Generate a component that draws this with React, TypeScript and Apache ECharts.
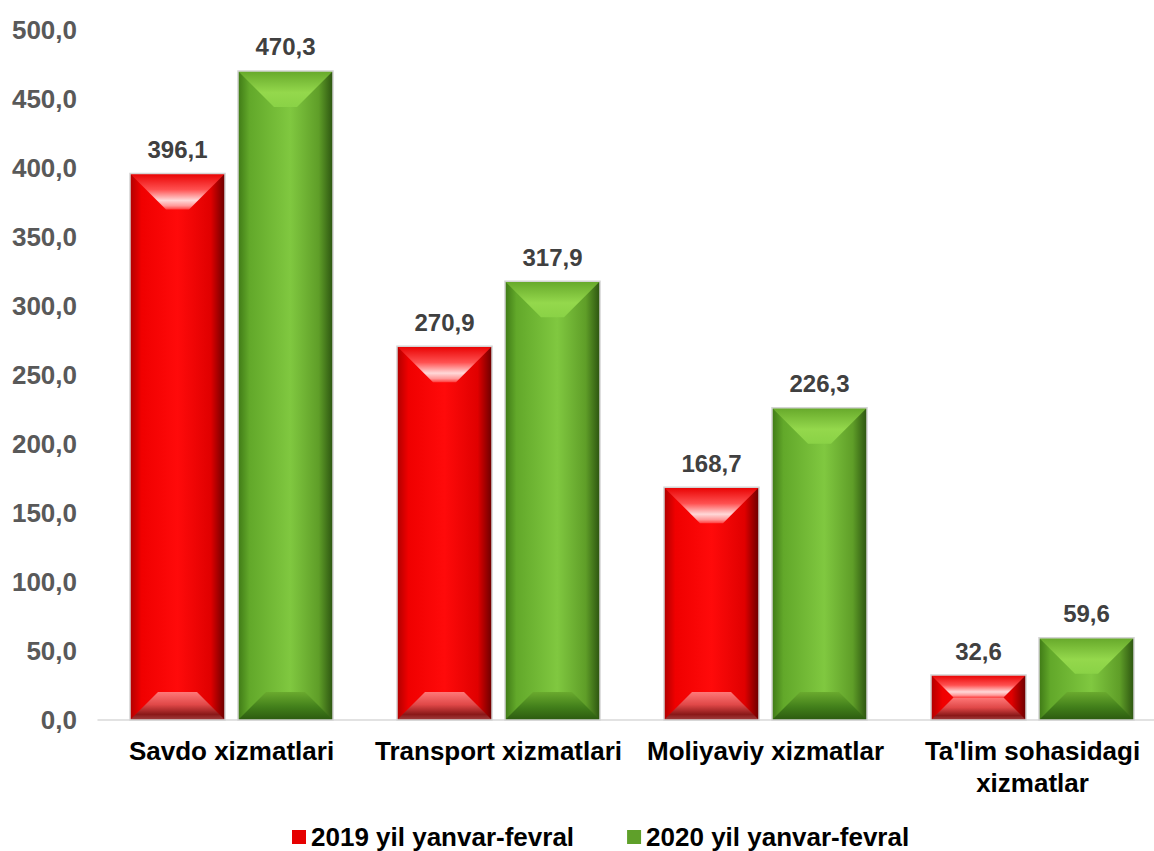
import React, { useEffect, useRef } from "react";
import * as echarts from "echarts";

const categories = ["Savdo xizmatlari", "Transport xizmatlari", "Moliyaviy xizmatlar", "Ta'lim sohasidagi\nxizmatlar"];
const series2019 = [396.1, 270.9, 168.7, 32.6];
const series2020 = [470.3, 317.9, 226.3, 59.6];
const seriesNames = ["2019 yil yanvar-fevral", "2020 yil yanvar-fevral"];

const FONT = "'Liberation Sans', Arial, sans-serif";

const fmt = (v: number) => v.toFixed(1).replace(".", ",");

type Palette = {
  front: [number, string][];
  top: [number, string][];
  bottom: [number, string][];
};

const redPal: Palette = {
  front: [[0, "#b00000"], [0.12, "#f00000"], [0.5, "#ff0a0a"], [0.85, "#e00000"], [1, "#6a0000"]],
  top: [[0, "#e80000"], [0.45, "#ff5050"], [0.75, "#ffd8d8"], [0.9, "#ff9a9a"], [1, "#ff4040"]],
  bottom: [[0, "#ff7878"], [0.45, "#e04848"], [0.8, "#8a1818"], [1, "#a04040"]],
};
const greenPal: Palette = {
  front: [[0, "#3f7a16"], [0.12, "#62a82a"], [0.55, "#80c840"], [0.85, "#5f9e28"], [1, "#2c5410"]],
  top: [[0, "#66a82a"], [0.6, "#94d84c"], [1, "#8ad246"]],
  bottom: [[0, "#6aaa2e"], [0.55, "#417e1a"], [1, "#2c5a10"]],
};

const grad = (stops: [number, string][], horizontal: boolean) => ({
  type: "linear",
  x: 0,
  y: 0,
  x2: horizontal ? 1 : 0,
  y2: horizontal ? 0 : 1,
  colorStops: stops.map(([offset, color]) => ({ offset, color })),
});

const BAR_W = 95;
const OFFSET = 54;

function makeRender(pal: Palette, sign: number) {
  return (params: any, api: any) => {
    const idx = api.value(0);
    const val = api.value(1);
    const base = api.coord([idx, 0]);
    const topPt = api.coord([idx, val]);
    const cx = base[0] + sign * OFFSET;
    const x0 = cx - BAR_W / 2;
    const x1 = cx + BAR_W / 2;
    const y0 = topPt[1];
    const y1 = base[1];
    const h = y1 - y0;
    const dT = Math.min(36, h / 2, BAR_W / 2);
    const dB = Math.min(28, h / 2, BAR_W / 2);
    return {
      type: "group",
      children: [
        {
          type: "rect",
          shape: { x: x0, y: y0, width: BAR_W, height: h },
          style: { fill: grad(pal.front, true) },
        },
        {
          type: "polygon",
          shape: { points: [[x0, y0], [x1, y0], [x1 - dT, y0 + dT], [x0 + dT, y0 + dT]] },
          style: { fill: grad(pal.top, false) },
        },
        {
          type: "polygon",
          shape: { points: [[x0 + dB, y1 - dB], [x1 - dB, y1 - dB], [x1, y1], [x0, y1]] },
          style: { fill: grad(pal.bottom, false) },
        },
        {
          type: "rect",
          shape: { x: x0, y: y0, width: BAR_W, height: h },
          style: { fill: "none", stroke: "#d4d4d4", lineWidth: 1.5 },
        },
        {
          type: "text",
          style: {
            text: fmt(val),
            x: cx,
            y: y0 - 12,
            textAlign: "center",
            textVerticalAlign: "bottom",
            fill: "#404040",
            font: `bold 24px ${FONT}`,
          },
        },
      ],
    };
  };
}

export default function App() {
  const ref = useRef<HTMLDivElement>(null);
  useEffect(() => {
    document.body.style.margin = "0";
    document.body.style.overflow = "hidden";
    const chart = echarts.init(ref.current!, undefined, { renderer: "svg" });
    chart.setOption({
      animation: false,
      backgroundColor: "#ffffff",
      grid: { left: 98, top: 30, bottom: 131, width: 1068 },
      legend: {
        left: 287,
        top: 819,
        icon: "rect",
        itemWidth: 14,
        itemHeight: 14,
        itemGap: 53,
        textStyle: { fontFamily: FONT, fontWeight: "bold", fontSize: 26, color: "#000000" },
        data: seriesNames,
      },
      xAxis: {
        type: "category",
        data: categories,
        axisLine: { lineStyle: { color: "#d9d9d9", width: 1.5 } },
        axisTick: { show: false },
        axisLabel: {
          margin: 15,
          fontFamily: FONT,
          fontWeight: "bold",
          fontSize: 26,
          lineHeight: 32,
          color: "#000000",
          interval: 0,
        },
      },
      yAxis: {
        type: "value",
        min: 0,
        max: 500,
        interval: 50,
        splitLine: { show: false },
        axisLine: { show: false },
        axisTick: { show: false },
        axisLabel: {
          margin: 21,
          fontFamily: FONT,
          fontWeight: "bold",
          fontSize: 26,
          color: "#595959",
          formatter: (v: number) => fmt(v),
        },
      },
      series: [
        {
          name: seriesNames[0],
          type: "custom",
          itemStyle: { color: "#e60000" },
          encode: { x: 0, y: 1 },
          data: series2019.map((v, i) => [i, v]),
          renderItem: makeRender(redPal, -1),
        },
        {
          name: seriesNames[1],
          type: "custom",
          itemStyle: { color: "#5fa02a" },
          encode: { x: 0, y: 1 },
          data: series2020.map((v, i) => [i, v]),
          renderItem: makeRender(greenPal, 1),
        },
      ],
    });
    return () => chart.dispose();
  }, []);
  return (
    <div style={{ width: 1154, height: 851, overflow: "hidden", background: "#ffffff" }}>
      <div ref={ref} style={{ width: 1170, height: 851 }} />
    </div>
  );
}
